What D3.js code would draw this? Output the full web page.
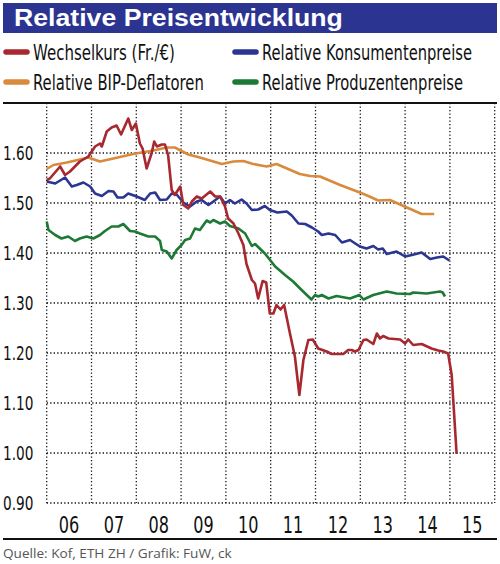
<!DOCTYPE html>
<html>
<head>
<meta charset="utf-8">
<script src="https://cdn.jsdelivr.net/npm/d3@7"></script>
<style>
  body { margin: 0; background: #fff; }
  svg { display: block; }
</style>
</head>
<body>
<svg id="chart" width="500" height="564"></svg>
<script>
// values: [year, value]
var wechselkurs = [
  [2006.00,1.546],[2006.07,1.549],[2006.30,1.573],[2006.41,1.556],[2006.52,1.563],[2006.74,1.583],
  [2006.93,1.593],[2007.08,1.613],[2007.19,1.619],[2007.23,1.613],[2007.34,1.643],[2007.45,1.651],
  [2007.56,1.655],[2007.66,1.637],[2007.82,1.669],[2007.90,1.646],[2007.99,1.659],[2008.08,1.619],
  [2008.14,1.609],[2008.23,1.569],[2008.34,1.599],[2008.40,1.623],[2008.46,1.613],[2008.57,1.617],
  [2008.64,1.617],[2008.71,1.596],[2008.79,1.526],[2008.86,1.516],[2008.98,1.533],[2009.05,1.496],
  [2009.16,1.489],[2009.24,1.503],[2009.35,1.513],[2009.46,1.509],[2009.65,1.523],[2009.76,1.513],
  [2009.87,1.513],[2009.98,1.493],[2010.05,1.469],[2010.17,1.459],[2010.28,1.439],[2010.39,1.416],
  [2010.46,1.378],[2010.58,1.346],[2010.65,1.339],[2010.72,1.309],[2010.82,1.344],[2010.90,1.341],
  [2010.98,1.279],[2011.06,1.279],[2011.13,1.296],[2011.22,1.287],[2011.30,1.296],[2011.43,1.239],
  [2011.54,1.193],[2011.64,1.116],[2011.73,1.186],[2011.84,1.226],[2011.94,1.227],[2012.06,1.209],
  [2012.25,1.203],[2012.36,1.198],[2012.62,1.198],[2012.73,1.206],[2012.81,1.206],[2012.88,1.203],
  [2012.96,1.206],[2013.07,1.226],[2013.14,1.227],[2013.29,1.218],[2013.37,1.239],[2013.44,1.229],
  [2013.51,1.234],[2013.63,1.229],[2013.89,1.227],[2014.00,1.219],[2014.07,1.227],[2014.18,1.216],
  [2014.37,1.218],[2014.59,1.209],[2014.74,1.205],[2014.85,1.203],[2014.96,1.199],[2015.04,1.156],
  [2015.15,0.998]
];
var konsumentenpreise = [
  [2006.00,1.543],[2006.19,1.539],[2006.41,1.551],[2006.56,1.533],[2006.67,1.536],[2006.82,1.541],
  [2006.97,1.533],[2007.08,1.519],[2007.23,1.514],[2007.38,1.524],[2007.49,1.523],[2007.58,1.511],
  [2007.71,1.511],[2007.82,1.519],[2008.01,1.513],[2008.19,1.506],[2008.31,1.519],[2008.42,1.521],
  [2008.53,1.506],[2008.68,1.507],[2008.79,1.519],[2008.90,1.517],[2009.05,1.501],[2009.20,1.493],
  [2009.35,1.503],[2009.46,1.506],[2009.61,1.496],[2009.72,1.503],[2009.87,1.513],[2009.98,1.499],
  [2010.09,1.506],[2010.20,1.499],[2010.35,1.507],[2010.46,1.499],[2010.58,1.486],[2010.72,1.487],
  [2010.87,1.494],[2010.98,1.486],[2011.15,1.481],[2011.36,1.483],[2011.47,1.475],[2011.62,1.459],
  [2011.77,1.458],[2011.92,1.451],[2012.06,1.443],[2012.14,1.436],[2012.29,1.439],[2012.44,1.436],
  [2012.59,1.421],[2012.77,1.426],[2012.99,1.413],[2013.14,1.409],[2013.29,1.414],[2013.40,1.407],
  [2013.50,1.409],[2013.59,1.398],[2013.81,1.403],[2014.00,1.393],[2014.15,1.396],[2014.37,1.401],
  [2014.56,1.388],[2014.71,1.391],[2014.85,1.393],[2014.99,1.385]
];
var bipDeflatoren = [
  [2006.00,1.568],[2006.15,1.576],[2006.45,1.581],[2006.74,1.587],[2006.93,1.591],[2007.19,1.583],
  [2007.93,1.598],[2008.38,1.605],[2008.68,1.611],[2008.86,1.611],[2009.16,1.597],[2009.42,1.591],
  [2009.91,1.578],[2010.17,1.583],[2010.39,1.584],[2010.61,1.578],[2010.91,1.573],[2011.13,1.578],
  [2011.65,1.558],[2011.88,1.554],[2012.10,1.553],[2012.55,1.536],[2012.99,1.521],[2013.18,1.514],
  [2013.40,1.505],[2013.66,1.506],[2014.04,1.491],[2014.37,1.478],[2014.65,1.478]
];
var produzentenpreise = [
  [2006.00,1.463],[2006.04,1.446],[2006.19,1.436],[2006.33,1.429],[2006.48,1.433],[2006.63,1.424],
  [2006.74,1.429],[2006.89,1.433],[2007.04,1.429],[2007.19,1.436],[2007.30,1.444],[2007.45,1.453],
  [2007.60,1.453],[2007.71,1.458],[2007.86,1.444],[2007.97,1.443],[2008.08,1.439],[2008.27,1.433],
  [2008.42,1.433],[2008.53,1.424],[2008.57,1.406],[2008.68,1.403],[2008.79,1.389],[2008.90,1.406],
  [2009.01,1.416],[2009.09,1.426],[2009.20,1.429],[2009.31,1.449],[2009.42,1.446],[2009.57,1.465],
  [2009.65,1.461],[2009.72,1.466],[2009.87,1.459],[2009.98,1.463],[2010.09,1.454],[2010.28,1.449],
  [2010.43,1.439],[2010.58,1.414],[2010.65,1.418],[2010.87,1.399],[2011.10,1.373],[2011.32,1.356],
  [2011.50,1.343],[2011.69,1.326],[2011.91,1.307],[2011.99,1.316],[2012.06,1.313],[2012.14,1.316],
  [2012.29,1.309],[2012.47,1.314],[2012.77,1.309],[2012.98,1.316],[2013.07,1.307],[2013.29,1.316],
  [2013.59,1.323],[2013.81,1.319],[2014.11,1.318],[2014.18,1.321],[2014.48,1.319],[2014.78,1.323],
  [2014.84,1.321],[2014.89,1.313]
];

var yearTicks = [2006, 2007, 2008, 2009, 2010, 2011, 2012, 2013, 2014, 2015];
var yearLabels = ["06", "07", "08", "09", "10", "11", "12", "13", "14", "15"];
var valueTicks = [0.9, 1.0, 1.1, 1.2, 1.3, 1.4, 1.5, 1.6];

var seriesNames = ["Wechselkurs (Fr./€)", "Relative Konsumentenpreise", "Relative BIP-Deflatoren", "Relative Produzentenpreise"];
var seriesColors = ["#a8282f", "#2b3592", "#d98a3d", "#1d7a35"];

var svg = d3.select("#chart");
var narrow = "'DejaVu Sans', sans-serif";

// the original uses a condensed face: draw at the anchor and scale x only
function squeeze(sel, factor) {
    sel.each(function() {
        var t = d3.select(this);
        var px = +t.attr("x"), py = +t.attr("y");
        t.attr("x", 0).attr("y", 0)
            .attr("transform", "translate(" + px + "," + py + ") scale(" + factor + ",1)");
    });
}
function squeezeTo(sel, width) {
    sel.each(function() {
        var w = this.getComputedTextLength();
        d3.select(this).call(squeeze, width / w);
    });
}

// title bar
svg.append("rect")
    .attr("x", 3).attr("y", 3)
    .attr("width", 494).attr("height", 30)
    .attr("fill", "#2b3490");
svg.append("text")
    .attr("x", 14).attr("y", 26)
    .attr("fill", "#fff")
    .style("font-family", "'Liberation Sans', Arial, sans-serif")
    .style("font-weight", "bold")
    .style("font-size", "24px")
    .text("Relative Preisentwicklung")
    .call(squeezeTo, 329);

// legend
var legendPos = [[3, 52], [232, 52], [3, 82], [232, 82]];
var legendWidths = [142, 210, 171, 201];
seriesNames.forEach(function(name, i) {
    var g = svg.append("g")
        .attr("transform", "translate(" + legendPos[i][0] + "," + legendPos[i][1] + ")");
    g.append("line")
        .attr("x1", 3).attr("x2", 24)
        .attr("y1", 0).attr("y2", 0)
        .attr("stroke", seriesColors[i])
        .attr("stroke-width", 5.5)
        .attr("stroke-linecap", "round");
    g.append("text")
        .attr("x", 30).attr("y", 7.5)
        .attr("fill", "#111")
        .style("font-family", narrow)
        .style("font-size", "21px")
        .text(name)
        .call(squeezeTo, legendWidths[i]);
});

var margin = {top: 103, right: 5, bottom: 61, left: 46.7},
    height = 564 - margin.top - margin.bottom;

var x = d3.scaleLinear().domain([2006, 2016]).range([margin.left, margin.left + 448]);
var y = d3.scaleLinear().domain([0.9, 1.7]).range([margin.top + height, margin.top]);

// grid
var grid = svg.append("g")
    .attr("stroke", "#111")
    .attr("stroke-width", 1.3)
    .style("stroke-dasharray", "1.3,2.2");
grid.selectAll("line.h")
    .data(valueTicks)
    .enter().append("line")
    .attr("class", "h")
    .attr("x1", x(2006)).attr("x2", x(2016))
    .attr("y1", function(d) { return y(d); })
    .attr("y2", function(d) { return y(d); });
grid.selectAll("line.v")
    .data(yearTicks.concat([2016]))
    .enter().append("line")
    .attr("class", "v")
    .attr("x1", function(d) { return x(d); })
    .attr("x2", function(d) { return x(d); })
    .attr("y1", y(1.7))
    .attr("y2", y(0.9));

// y labels
svg.selectAll("text.ylab")
    .data(valueTicks)
    .enter().append("text")
    .attr("class", "ylab")
    .attr("x", 3)
    .attr("y", function(d) { return y(d) + 7; })
    .attr("fill", "#111")
    .style("font-family", narrow)
    .style("font-size", "19px")
    .text(function(d) { return d.toFixed(2); })
    .call(squeeze, 0.72);

// x labels
svg.selectAll("text.xlab")
    .data(yearTicks)
    .enter().append("text")
    .attr("class", "xlab")
    .attr("x", function(d) { return x(d + 0.5); })
    .attr("y", 533)
    .attr("text-anchor", "middle")
    .attr("fill", "#111")
    .style("font-family", narrow)
    .style("font-size", "23px")
    .text(function(d, i) { return yearLabels[i]; })
    .call(squeeze, 0.7);

// rules
svg.append("line")
    .attr("x1", 3).attr("x2", 497)
    .attr("y1", y(1.7)).attr("y2", y(1.7))
    .attr("stroke", "#111").attr("stroke-width", 2);
svg.append("line")
    .attr("x1", 3).attr("x2", 497)
    .attr("y1", 539).attr("y2", 539)
    .attr("stroke", "#111").attr("stroke-width", 2);

// series
var line = d3.line()
    .x(function(d) { return x(d[0]); })
    .y(function(d) { return y(d[1]); });

var allSeries = [wechselkurs, konsumentenpreise, bipDeflatoren, produzentenpreise];
[2, 1, 3, 0].forEach(function(idx) {
    svg.append("path")
        .datum(allSeries[idx])
        .attr("fill", "none")
        .attr("stroke", seriesColors[idx])
        .attr("stroke-width", 2.6)
        .attr("stroke-linejoin", "round")
        .attr("d", line);
});

// source
svg.append("text")
    .attr("x", 3).attr("y", 558)
    .attr("fill", "#555")
    .style("font-family", "'Open Sans', sans-serif")
    .style("font-size", "13px")
    .text("Quelle: Kof, ETH ZH / Grafik: FuW, ck")
    .call(squeezeTo, 229);
</script>
</body>
</html>
